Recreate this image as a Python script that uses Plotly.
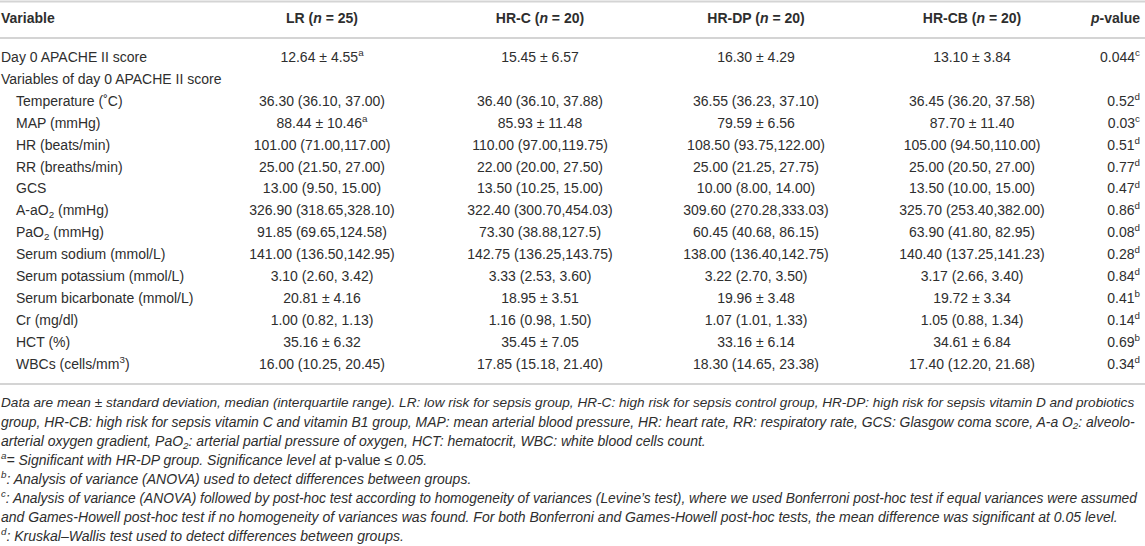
import plotly.graph_objects as go

# table content
groups = ["LR", "HR-C", "HR-DP", "HR-CB"]
group_n = [25, 20, 20, 20]

variables = [
    "Day 0 APACHE II score",
    "Variables of day 0 APACHE II score",
    "Temperature (˚C)",
    "MAP (mmHg)",
    "HR (beats/min)",
    "RR (breaths/min)",
    "GCS",
    "A-aO<sub>2</sub> (mmHg)",
    "PaO<sub>2</sub> (mmHg)",
    "Serum sodium (mmol/L)",
    "Serum potassium (mmol/L)",
    "Serum bicarbonate (mmol/L)",
    "Cr (mg/dl)",
    "HCT (%)",
    "WBCs (cells/mm<sup>3</sup>)",
]
indented = [False, False] + [True] * 13

lr = ["12.64 ± 4.55<sup>a</sup>", "", "36.30 (36.10, 37.00)", "88.44 ± 10.46<sup>a</sup>",
      "101.00 (71.00,117.00)", "25.00 (21.50, 27.00)", "13.00 (9.50, 15.00)",
      "326.90 (318.65,328.10)", "91.85 (69.65,124.58)", "141.00 (136.50,142.95)",
      "3.10 (2.60, 3.42)", "20.81 ± 4.16", "1.00 (0.82, 1.13)", "35.16 ± 6.32",
      "16.00 (10.25, 20.45)"]
hr_c = ["15.45 ± 6.57", "", "36.40 (36.10, 37.88)", "85.93 ± 11.48",
        "110.00 (97.00,119.75)", "22.00 (20.00, 27.50)", "13.50 (10.25, 15.00)",
        "322.40 (300.70,454.03)", "73.30 (38.88,127.5)", "142.75 (136.25,143.75)",
        "3.33 (2.53, 3.60)", "18.95 ± 3.51", "1.16 (0.98, 1.50)", "35.45 ± 7.05",
        "17.85 (15.18, 21.40)"]
hr_dp = ["16.30 ± 4.29", "", "36.55 (36.23, 37.10)", "79.59 ± 6.56",
         "108.50 (93.75,122.00)", "25.00 (21.25, 27.75)", "10.00 (8.00, 14.00)",
         "309.60 (270.28,333.03)", "60.45 (40.68, 86.15)", "138.00 (136.40,142.75)",
         "3.22 (2.70, 3.50)", "19.96 ± 3.48", "1.07 (1.01, 1.33)", "33.16 ± 6.14",
         "18.30 (14.65, 23.38)"]
hr_cb = ["13.10 ± 3.84", "", "36.45 (36.20, 37.58)", "87.70 ± 11.40",
         "105.00 (94.50,110.00)", "25.00 (20.50, 27.00)", "13.50 (10.00, 15.00)",
         "325.70 (253.40,382.00)", "63.90 (41.80, 82.95)", "140.40 (137.25,141.23)",
         "3.17 (2.66, 3.40)", "19.72 ± 3.34", "1.05 (0.88, 1.34)", "34.61 ± 6.84",
         "17.40 (12.20, 21.68)"]
p_values = ["0.044", "", "0.52", "0.03", "0.51", "0.77", "0.47", "0.86", "0.08",
            "0.28", "0.84", "0.41", "0.14", "0.69", "0.34"]
p_notes = ["c", "", "d", "c", "d", "d", "d", "d", "d", "d", "d", "b", "d", "b", "d"]

footnotes = [
    "Data are mean ± standard deviation, median (interquartile range). LR: low risk for sepsis group, HR-C: high risk for sepsis control group, HR-DP: high risk for sepsis vitamin D and probiotics",
    "group, HR-CB: high risk for sepsis vitamin C and vitamin B1 group, MAP: mean arterial blood pressure, HR: heart rate, RR: respiratory rate, GCS: Glasgow coma score, A-a O<sub>2</sub>: alveolo-",
    "arterial oxygen gradient, PaO<sub>2</sub>: arterial partial pressure of oxygen, HCT: hematocrit, WBC: white blood cells count.",
    "<sup>a</sup>= Significant with HR-DP group. Significance level at <span style='font-style:normal'>p-value</span> ≤ 0.05.",
    "<sup>b</sup>: Analysis of variance (ANOVA) used to detect differences between groups.",
    "<sup>c</sup>: Analysis of variance (ANOVA) followed by post-hoc test according to homogeneity of variances (Levine’s test), where we used Bonferroni post-hoc test if equal variances were assumed",
    "and Games-Howell post-hoc test if no homogeneity of variances was found. For both Bonferroni and Games-Howell post-hoc tests, the mean difference was significant at 0.05 level.",
    "<sup>d</sup>: Kruskal–Wallis test used to detect differences between groups.",
]
# per-line sizes so each line spans the same width as in the source
foot_sizes = [13.6, 13.9, 14.0, 14.0, 14.0, 13.8, 14.0, 14.0]

# layout geometry (pixels)
W, H = 1145, 546
col_x = [322, 540, 756, 972]
p_right = 1140
header_y = 19
first_row_y = 58.5
row_step = 21.9
foot_step = 19.0
font = "Liberation Sans, Arial, sans-serif"
ink = "#2e2e2e"
rule = "#d4d4d4"
body_size = 14

row_y = [first_row_y + i * row_step for i in range(len(variables))]
table_bottom = row_y[-1] + 19
foot_y = [table_bottom + 20 + i * foot_step for i in range(len(footnotes))]

fig = go.Figure()

# variable names
fig.add_trace(go.Scatter(
    x=[16 if ind else 1 for ind in indented], y=row_y,
    text=variables, mode="text", textposition="middle right",
    textfont=dict(family=font, size=body_size, color=ink), hoverinfo="skip"))

# group columns
for cx, col in zip(col_x, [lr, hr_c, hr_dp, hr_cb]):
    fig.add_trace(go.Scatter(
        x=[cx] * len(col), y=row_y, text=col, mode="text",
        textposition="middle center",
        textfont=dict(family=font, size=body_size, color=ink), hoverinfo="skip"))

# p-values
p_text = [f"{v}<sup>{n}</sup>" if v else "" for v, n in zip(p_values, p_notes)]
fig.add_trace(go.Scatter(
    x=[p_right] * len(p_text), y=row_y, text=p_text, mode="text",
    textposition="middle left",
    textfont=dict(family=font, size=body_size, color=ink), hoverinfo="skip"))

# header
headers = [f"<b>{g} (<i>n</i> = {n})</b>" for g, n in zip(groups, group_n)]
fig.add_trace(go.Scatter(
    x=col_x, y=[header_y] * 4, text=headers, mode="text",
    textposition="middle center",
    textfont=dict(family=font, size=body_size, color=ink), hoverinfo="skip"))
fig.add_trace(go.Scatter(
    x=[1], y=[header_y], text=["<b>Variable</b>"], mode="text",
    textposition="middle right",
    textfont=dict(family=font, size=body_size, color=ink), hoverinfo="skip"))
fig.add_trace(go.Scatter(
    x=[p_right], y=[header_y], text=["<b><i>p</i>-value</b>"], mode="text",
    textposition="middle left",
    textfont=dict(family=font, size=body_size, color=ink), hoverinfo="skip"))

# footnotes
fig.add_trace(go.Scatter(
    x=[1] * len(footnotes), y=foot_y, text=[f"<i>{t}</i>" for t in footnotes],
    mode="text", textposition="middle right", cliponaxis=False,
    textfont=dict(family=font, size=foot_sizes, color=ink), hoverinfo="skip"))

# horizontal rules
for yy in [1.5, 38, table_bottom]:
    fig.add_shape(type="line", x0=0, x1=W, y0=yy, y1=yy,
                  line=dict(color=rule, width=2))

fig.update_xaxes(range=[0, W], visible=False, fixedrange=True)
fig.update_yaxes(range=[H, 0], visible=False, fixedrange=True)
fig.update_layout(
    width=W, height=H, margin=dict(l=0, r=0, t=0, b=0),
    plot_bgcolor="white", paper_bgcolor="white", showlegend=False)

fig.write_html("out.html", config={"displayModeBar": False},
               post_script="document.body.style.margin='0px';")
